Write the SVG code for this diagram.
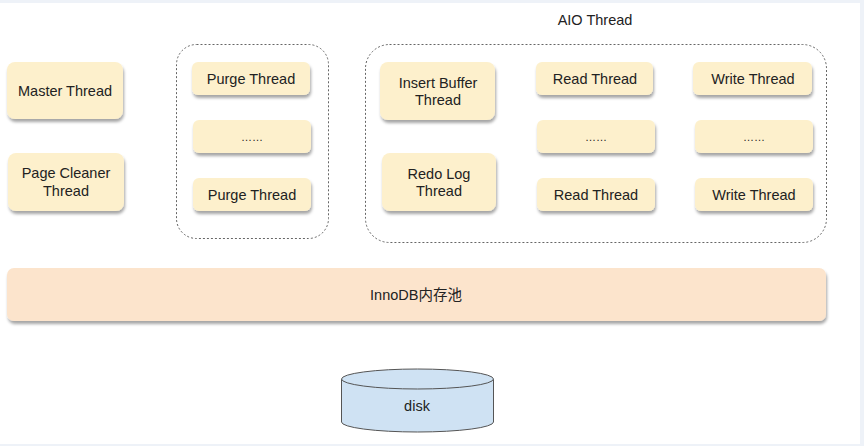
<svg xmlns="http://www.w3.org/2000/svg" width="864" height="446" viewBox="0 0 864 446">
<style>
.box{fill:#fdf0cc;stroke:none;filter:url(#sh)}
.bar{fill:#fce4cc;filter:url(#sh)}
.grp{fill:none;stroke:#666;stroke-width:1;stroke-dasharray:2 2}
text{font-family:"Liberation Sans",Arial,"Noto Sans CJK SC",sans-serif;font-size:14.5px;fill:#222;text-anchor:middle}
.dots{font-size:11px}
</style>
<defs>
<filter id="sh" x="-10%" y="-20%" width="120%" height="160%">
<feDropShadow dx="1" dy="3" stdDeviation="1.6" flood-color="#000" flood-opacity="0.35"/>
</filter>
</defs>
<rect x="0" y="0" width="864" height="446" fill="#ffffff"/>
<rect x="0" y="0" width="864" height="3" fill="#eef2f8"/>
<rect x="860" y="0" width="4" height="446" fill="#eef2f8"/>
<rect x="0" y="444" width="864" height="2" fill="#eef2f8"/>

<g id="purge-group"><rect class="grp" x="176.5" y="44.5" width="152" height="194" rx="20"/></g>
<g id="aio-group"><rect class="grp" x="365.5" y="44.5" width="461" height="198" rx="24"/>
<text x="595" y="25">AIO Thread</text></g>

<g id="master"><rect class="box" x="7" y="62" width="116" height="57" rx="8"/><text x="65" y="96">Master Thread</text></g>
<g id="pagecleaner"><rect class="box" x="8" y="153" width="116" height="58" rx="8"/><text x="66" y="178">Page Cleaner</text><text x="66" y="196">Thread</text></g>

<g id="purge1"><rect class="box" x="192" y="62" width="118" height="33" rx="6"/><text x="251" y="84">Purge Thread</text></g>
<g id="purgedots"><rect class="box" x="193" y="120" width="118" height="33" rx="6"/><text class="dots" x="252" y="141">……</text></g>
<g id="purge2"><rect class="box" x="193" y="178" width="118" height="33" rx="6"/><text x="252" y="200">Purge Thread</text></g>

<g id="insertbuffer"><rect class="box" x="380" y="62" width="115" height="58" rx="8"/><text x="438" y="88">Insert Buffer</text><text x="438" y="105">Thread</text></g>
<g id="redolog"><rect class="box" x="382" y="153" width="114" height="58" rx="8"/><text x="439" y="179">Redo Log</text><text x="439" y="196">Thread</text></g>

<g id="read1"><rect class="box" x="536" y="62" width="117" height="33" rx="6"/><text x="595" y="84">Read Thread</text></g>
<g id="readdots"><rect class="box" x="537" y="120" width="118" height="33" rx="6"/><text class="dots" x="596" y="141">……</text></g>
<g id="read2"><rect class="box" x="537" y="178" width="118" height="33" rx="6"/><text x="596" y="200">Read Thread</text></g>

<g id="write1"><rect class="box" x="693" y="62" width="119" height="33" rx="6"/><text x="753" y="84">Write Thread</text></g>
<g id="writedots"><rect class="box" x="695" y="120" width="118" height="33" rx="6"/><text class="dots" x="754" y="141">……</text></g>
<g id="write2"><rect class="box" x="695" y="178" width="118" height="33" rx="6"/><text x="754" y="200">Write Thread</text></g>

<g id="bufferpool"><rect class="bar" x="7" y="268" width="819" height="53" rx="7"/><text x="416" y="300">InnoDB内存池</text></g>

<g id="disk">
<path d="M341.5,379 L341.5,422 A76,10 0 0 0 493.5,422 L493.5,379" fill="#cfe2f3" stroke="#555" stroke-width="1"/>
<ellipse cx="417.5" cy="379" rx="76" ry="10" fill="#cfe2f3" stroke="#555" stroke-width="1"/>
<text x="417" y="411">disk</text>
</g>
<g id="connectors"></g>
</svg>
